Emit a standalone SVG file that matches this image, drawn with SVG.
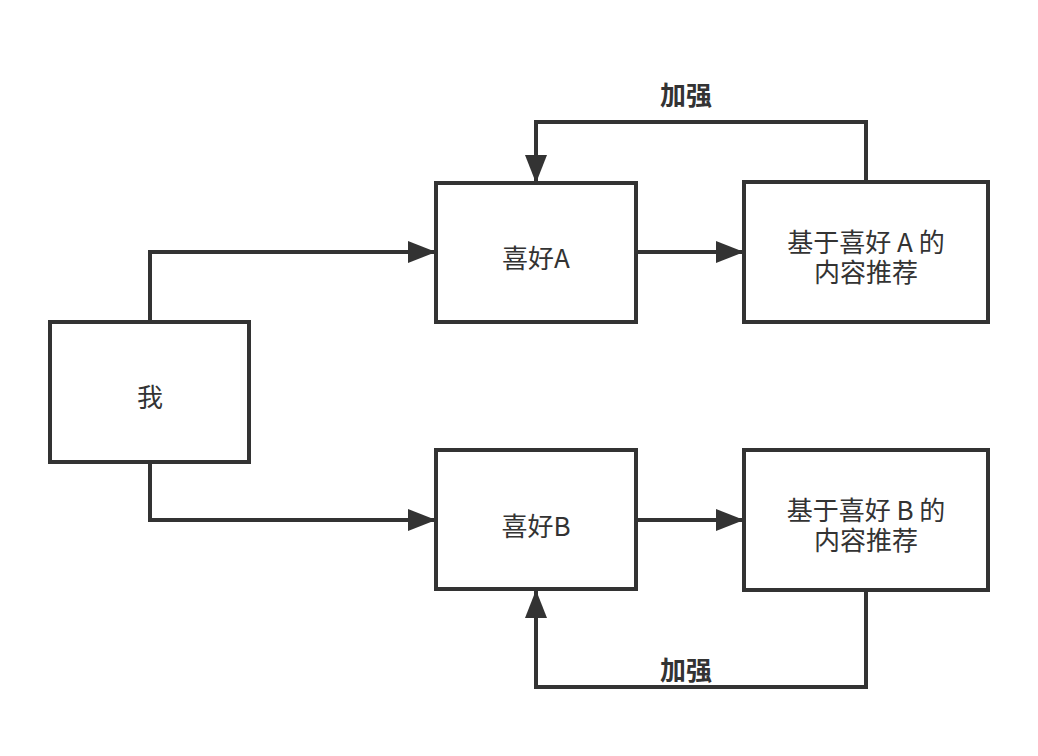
<svg xmlns="http://www.w3.org/2000/svg" width="1038" height="756" viewBox="0 0 1038 756">
<style>
.box{fill:#fff;stroke:#333;stroke-width:4}
.ln{fill:none;stroke:#333;stroke-width:4}
.t{font-family:"Noto Sans CJK SC","Noto Sans",sans-serif;font-size:26px;fill:#333;text-anchor:middle;dominant-baseline:central}
.b{font-family:"Noto Sans CJK SC","Noto Sans",sans-serif;font-size:26px;font-weight:bold;fill:#333;text-anchor:middle;dominant-baseline:central}
</style>
<defs>
<marker id="ar" markerUnits="userSpaceOnUse" markerWidth="30" markerHeight="24" refX="28" refY="11" orient="auto">
<path d="M0,0 L28,11 L0,22 Z" fill="#333"/>
</marker>
</defs>
<rect width="1038" height="756" fill="#fff"/>
<g id="connectors">
<path class="ln" d="M150,322 V252 H436" marker-end="url(#ar)"/>
<path class="ln" d="M150,462 V520 H436" marker-end="url(#ar)"/>
<path class="ln" d="M636,252 H744" marker-end="url(#ar)"/>
<path class="ln" d="M636,520 H744" marker-end="url(#ar)"/>
<path class="ln" d="M866,182 V122 H536 V183" marker-end="url(#ar)"/>
<path class="ln" d="M866,590 V687 H536 V590" marker-end="url(#ar)"/>
<text class="b" x="686" y="93">加强</text>
<text class="b" x="686" y="668">加强</text>
</g>
<g id="me">
<rect class="box" x="50" y="322" width="199" height="140"/>
<text class="t" x="150" y="395">我</text>
</g>
<g id="prefA">
<rect class="box" x="436" y="183" width="200" height="139"/>
<text class="t" x="536" y="256">喜好A</text>
</g>
<g id="recA">
<rect class="box" x="744" y="182" width="244" height="140"/>
<text class="t" x="866" y="240"><tspan x="866" y="240">基于喜好 A 的</tspan><tspan x="866" y="270">内容推荐</tspan></text>
</g>
<g id="prefB">
<rect class="box" x="436" y="450" width="200" height="139"/>
<text class="t" x="536" y="524">喜好B</text>
</g>
<g id="recB">
<rect class="box" x="744" y="450" width="244" height="140"/>
<text class="t" x="866" y="508"><tspan x="866" y="508">基于喜好 B 的</tspan><tspan x="866" y="538">内容推荐</tspan></text>
</g>
</svg>
